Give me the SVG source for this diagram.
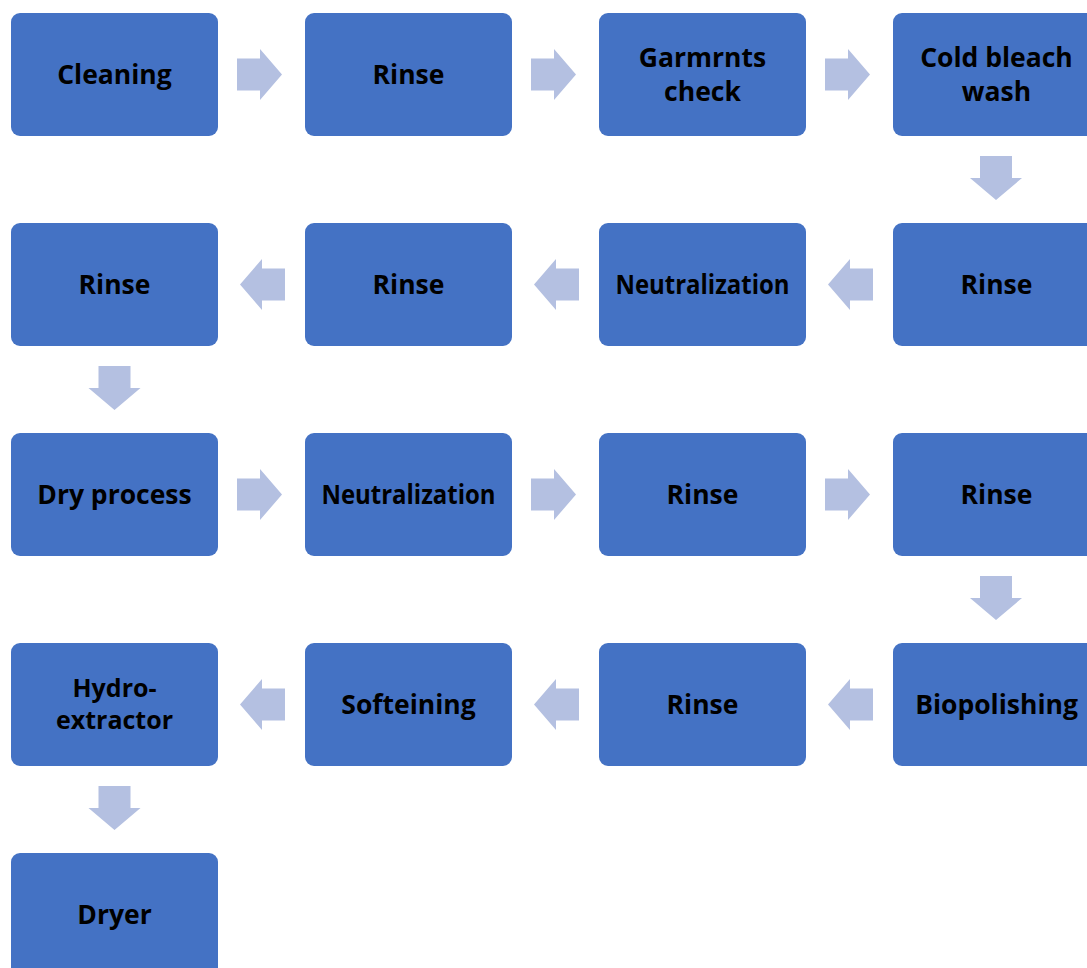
<svg xmlns="http://www.w3.org/2000/svg" width="1087" height="968" viewBox="0 0 1087 968">
<defs>
<style>
.box{fill:#4472C4;}
.t{font-family:"Open Sans",Lato,sans-serif;font-weight:700;font-size:26.5px;fill:#000;text-anchor:middle;}
.s{font-size:25px;}
.ar{fill:#B4C0E1;}
</style>
<path id="ar" class="ar" d="M0,-16 H23 V-25.5 L45,0 L23,25.5 V16 H0 Z"/>
<path id="al" class="ar" d="M0,-16 H-23 V-25.5 L-45,0 L-23,25.5 V16 H0 Z"/>
<path id="ad" class="ar" d="M-16,0 V22 H-26 L0,44 L26,22 H16 V0 Z"/>
</defs>
<rect width="1087" height="968" fill="#fff"/>
<g id="connectors">
<use href="#ar" x="237" y="74.5"/>
<use href="#ar" x="531" y="74.5"/>
<use href="#ar" x="825" y="74.5"/>
<use href="#ad" x="996" y="156"/>
<use href="#al" x="873" y="284.5"/>
<use href="#al" x="579" y="284.5"/>
<use href="#al" x="285" y="284.5"/>
<use href="#ad" x="114.5" y="366"/>
<use href="#ar" x="237" y="494.5"/>
<use href="#ar" x="531" y="494.5"/>
<use href="#ar" x="825" y="494.5"/>
<use href="#ad" x="996" y="576"/>
<use href="#al" x="873" y="704.5"/>
<use href="#al" x="579" y="704.5"/>
<use href="#al" x="285" y="704.5"/>
<use href="#ad" x="114.5" y="786"/>
</g>
<g id="n1"><rect class="box" x="11" y="13" width="207" height="123" rx="9"/><text class="t" x="114.5" y="84">Cleaning</text></g>
<g id="n2"><rect class="box" x="305" y="13" width="207" height="123" rx="9"/><text class="t" x="408.5" y="84">Rinse</text></g>
<g id="n3"><rect class="box" x="599" y="13" width="207" height="123" rx="9"/><text class="t" x="702.5" y="67">Garmrnts</text><text class="t" x="702.5" y="101">check</text></g>
<g id="n4"><rect class="box" x="893" y="13" width="207" height="123" rx="9"/><text class="t" x="996.5" y="67">Cold bleach</text><text class="t" x="996.5" y="101">wash</text></g>
<g id="n5"><rect class="box" x="893" y="223" width="207" height="123" rx="9"/><text class="t" x="996.5" y="294">Rinse</text></g>
<g id="n6"><rect class="box" x="599" y="223" width="207" height="123" rx="9"/><text class="t" x="702.5" y="294" textLength="174" lengthAdjust="spacingAndGlyphs">Neutralization</text></g>
<g id="n7"><rect class="box" x="305" y="223" width="207" height="123" rx="9"/><text class="t" x="408.5" y="294">Rinse</text></g>
<g id="n8"><rect class="box" x="11" y="223" width="207" height="123" rx="9"/><text class="t" x="114.5" y="294">Rinse</text></g>
<g id="n9"><rect class="box" x="11" y="433" width="207" height="123" rx="9"/><text class="t" x="114.5" y="504">Dry process</text></g>
<g id="n10"><rect class="box" x="305" y="433" width="207" height="123" rx="9"/><text class="t" x="408.5" y="504" textLength="174" lengthAdjust="spacingAndGlyphs">Neutralization</text></g>
<g id="n11"><rect class="box" x="599" y="433" width="207" height="123" rx="9"/><text class="t" x="702.5" y="504">Rinse</text></g>
<g id="n12"><rect class="box" x="893" y="433" width="207" height="123" rx="9"/><text class="t" x="996.5" y="504">Rinse</text></g>
<g id="n13"><rect class="box" x="893" y="643" width="207" height="123" rx="9"/><text class="t" x="996.5" y="714">Biopolishing</text></g>
<g id="n14"><rect class="box" x="599" y="643" width="207" height="123" rx="9"/><text class="t" x="702.5" y="714">Rinse</text></g>
<g id="n15"><rect class="box" x="305" y="643" width="207" height="123" rx="9"/><text class="t" x="408.5" y="714">Softeining</text></g>
<g id="n16"><rect class="box" x="11" y="643" width="207" height="123" rx="9"/><text class="t s" x="114.5" y="697">Hydro-</text><text class="t s" x="114.5" y="729">extractor</text></g>
<g id="n17"><rect class="box" x="11" y="853" width="207" height="123" rx="9"/><text class="t" x="114.5" y="924">Dryer</text></g>
</svg>
